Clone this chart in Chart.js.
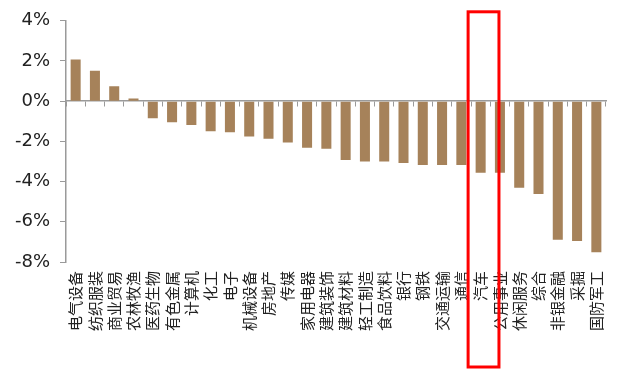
<!DOCTYPE html>
<html>
<head>
<meta charset="utf-8">
<script src="https://cdn.jsdelivr.net/npm/chart.js@4/dist/chart.umd.min.js"></script>
<style>
  html, body { margin: 0; padding: 0; background: #fff; }
  #wrap { width: 617px; height: 370px; }
</style>
</head>
<body>
<div id="wrap"><canvas id="sectorChart" width="617" height="370"></canvas></div>
<script>
// 行业周涨跌幅
const sectors = ['电气设备', '纺织服装', '商业贸易', '农林牧渔', '医药生物', '有色金属', '计算机', '化工', '电子', '机械设备',
    '房地产', '传媒', '家用电器', '建筑装饰', '建筑材料', '轻工制造', '食品饮料', '银行', '钢铁', '交通运输',
    '通信', '汽车', '公用事业', '休闲服务', '综合', '非银金融', '采掘', '国防军工'];
const changes = [2.08, 1.51, 0.75, 0.14, -0.85, -1.05, -1.18, -1.49, -1.54, -1.75,
    -1.87, -2.05, -2.31, -2.36, -2.93, -3.0, -3.0, -3.07, -3.18, -3.18,
    -3.18, -3.56, -3.56, -4.31, -4.62, -6.89, -6.95, -7.51];
const yTicks = [4, 2, 0, -2, -4, -6, -8];
const highlight = '汽车';

const axisGray = '#9a9a9a';

// 红框标出重点行业
const highlightBox = {
    id: 'highlightBox',
    afterLayout(chart) {
        // 行业名称字距稍宽
        const x = chart.scales.x;
        if (x._spaced) return;
        const draw = x.draw;
        x.draw = function (area) {
            const c = this.ctx;
            c.save();
            c.letterSpacing = '2px';
            draw.call(this, area);
            c.restore();
        };
        x._spaced = true;
    },
    afterDraw(chart) {
        const x = chart.scales.x;
        const i = sectors.indexOf(highlight);
        if (i < 0) return;
        const step = x.getPixelForValue(1) - x.getPixelForValue(0);
        const cx = x.getPixelForValue(i);
        const ctx = chart.ctx;
        ctx.save();
        ctx.strokeStyle = '#ff0000';
        ctx.lineWidth = 3;
        ctx.strokeRect(cx - step * 0.65, chart.chartArea.top - 9, step * 1.6, chart.height - chart.chartArea.top + 6);
        ctx.restore();
    }
};

const ctx = document.getElementById('sectorChart').getContext('2d');
new Chart(ctx, {
    type: 'bar',
    data: {
        labels: sectors,
        datasets: [{
            data: changes,
            backgroundColor: '#a6825a',
            barPercentage: 0.52,
            categoryPercentage: 1.0,
            xAxisID: 'x'
        }]
    },
    options: {
        responsive: false,
        animation: false,
        devicePixelRatio: 1,
        layout: { padding: { top: 15, right: 11, left: 0, bottom: 0 } },
        plugins: {
            legend: { display: false },
            tooltip: { enabled: false }
        },
        scales: {
            x: {
                type: 'category',
                position: 'bottom',
                grid: { display: false, drawTicks: false },
                border: { display: false },
                ticks: {
                    autoSkip: false,
                    minRotation: 90,
                    maxRotation: 90,
                    padding: 9,
                    color: '#222',
                    font: { size: 15, family: "'Noto Sans CJK SC', sans-serif" }
                },
                afterFit: s => {
                    s.height = 108;
                    s.paddingLeft = 0;
                    s.paddingRight = 0;
                }
            },
            x0: {
                // 零轴及分隔刻度
                type: 'category',
                position: { y: 0 },
                offset: true,
                grid: { offset: true, drawOnChartArea: false, drawTicks: true, tickLength: 5, color: axisGray },
                border: { display: true, color: axisGray, width: 1.5 },
                ticks: { display: false }
            },
            y: {
                min: -8,
                max: 4,
                afterBuildTicks: s => { s.ticks = yTicks.map(v => ({ value: v })); },
                grid: { drawOnChartArea: false, drawTicks: true, tickLength: 6, color: axisGray },
                border: { display: true, color: axisGray, width: 1.5 },
                ticks: {
                    padding: 10,
                    color: '#222',
                    callback: v => v + '%',
                    font: { size: 18, family: "'DejaVu Sans', sans-serif" }
                },
                afterFit: s => { s.width = 66; }
            }
        }
    },
    plugins: [highlightBox]
});
</script>
</body>
</html>
